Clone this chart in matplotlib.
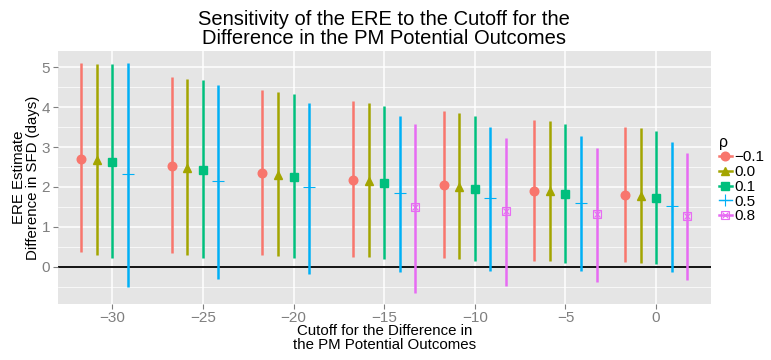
import numpy as np
import matplotlib
matplotlib.use("Agg")
import matplotlib.pyplot as plt
from matplotlib.lines import Line2D

plt.rcParams['font.family'] = ['Liberation Sans', 'DejaVu Sans']

# cutoff values on the x axis
cutoffs = [-30, -25, -20, -15, -10, -5, 0]
rho_labels = ['\u22120.1', '0.0', '0.1', '0.5', '0.8']

# ERE estimates and interval ends, one list per rho (nan = not estimated)
est_m01 = [2.71, 2.52, 2.34, 2.18, 2.05, 1.91, 1.81]
lo_m01 = [0.36, 0.34, 0.30, 0.25, 0.21, 0.15, 0.12]
hi_m01 = [5.11, 4.75, 4.43, 4.15, 3.90, 3.69, 3.51]

est_00 = [2.68, 2.48, 2.31, 2.15, 2.01, 1.89, 1.78]
lo_00 = [0.30, 0.28, 0.26, 0.23, 0.18, 0.14, 0.10]
hi_00 = [5.08, 4.70, 4.38, 4.10, 3.86, 3.65, 3.47]

est_01 = [2.62, 2.43, 2.25, 2.09, 1.96, 1.83, 1.73]
lo_01 = [0.21, 0.21, 0.21, 0.19, 0.14, 0.10, 0.07]
hi_01 = [5.08, 4.68, 4.34, 4.04, 3.78, 3.58, 3.40]

est_05 = [2.32, 2.15, 2.00, 1.84, 1.72, 1.60, 1.51]
lo_05 = [-0.50, -0.30, -0.18, -0.13, -0.10, -0.12, -0.13]
hi_05 = [5.11, 4.55, 4.12, 3.78, 3.51, 3.29, 3.13]

est_08 = [np.nan, np.nan, np.nan, 1.49, 1.40, 1.33, 1.28]
lo_08 = [np.nan, np.nan, np.nan, -0.67, -0.48, -0.39, -0.33]
hi_08 = [np.nan, np.nan, np.nan, 3.58, 3.22, 2.99, 2.84]

estimates = [est_m01, est_00, est_01, est_05, est_08]
lowers = [lo_m01, lo_00, lo_01, lo_05, lo_08]
uppers = [hi_m01, hi_00, hi_01, hi_05, hi_08]

colors = ['#F8766D', '#A3A500', '#00BF7D', '#00B0F6', '#E76BF3']
markers = ['o', '^', 's', '+', 's']
dodge = 4.3

fig = plt.figure(figsize=(7.71, 3.6), dpi=100)
ax = fig.add_axes([0.075, 0.156, 0.847, 0.702])
ax.set_facecolor('#E5E5E5')
for s in ax.spines.values():
    s.set_visible(False)

# ggplot-like grid
for y in np.arange(-0.5, 5.5, 1.0):
    ax.axhline(y, color='white', lw=0.5, zorder=0)
for y in range(0, 6):
    ax.axhline(y, color='white', lw=1.1, zorder=0)
for x in cutoffs:
    ax.axvline(x, color='white', lw=1.1, zorder=0)

ax.axhline(0, color='black', lw=1.3, zorder=1)

x = np.array(cutoffs, dtype=float)
for i in range(5):
    xs = x + (i - 2) * dodge / 5
    est = np.array(estimates[i])
    lo = np.array(lowers[i])
    hi = np.array(uppers[i])
    ax.vlines(xs, lo, hi, color=colors[i], lw=1.8, zorder=2)
    if i == 3:
        ax.plot(xs, est, ls='none', marker='+', ms=9, mew=0.8,
                color=colors[i], zorder=3)
    elif i == 4:
        ax.plot(xs, est, ls='none', marker='s', ms=5.5, mew=0.8,
                mfc='none', mec=colors[i], zorder=3)
        ax.plot(xs, est, ls='none', marker='x', ms=4, mew=0.8,
                color=colors[i], zorder=3)
    else:
        ax.plot(xs, est, ls='none', marker=markers[i], ms=6.2,
                color=colors[i], zorder=3)

ax.set_xlim(-33, 3.02)
ax.set_ylim(-0.935, 5.41)
ax.set_xticks(cutoffs)
ax.set_xticklabels(['\u221230', '\u221225', '\u221220', '\u221215',
                    '\u221210', '\u22125', '0'])
ax.set_yticks(range(0, 6))
ax.tick_params(colors='#7F7F7F', labelsize=11, length=3.5, width=0.8, pad=2)

ax.set_xlabel('Cutoff for the Difference in\nthe PM Potential Outcomes',
              fontsize=10.8, labelpad=-1, linespacing=1.0)
ax.set_ylabel('ERE Estimate\nDifference in SFD (days)', fontsize=10.8,
              labelpad=1, linespacing=1.05)
ax.set_title('Sensitivity of the ERE to the Cutoff for the\n'
             'Difference in the PM Potential Outcomes',
             fontsize=14.5, linespacing=1.0, pad=5)

# legend
handles = []
for i in range(5):
    if i == 4:
        h = (Line2D([], [], color=colors[i], lw=1.8, marker='s', ms=5.5,
                    mfc='none', mec=colors[i], mew=0.8),
             Line2D([], [], ls='none', marker='x', ms=4, mew=0.8,
                    color=colors[i]))
    elif i == 3:
        h = Line2D([], [], color=colors[i], lw=1.0, marker='+', ms=9,
                   mew=0.8)
    else:
        h = Line2D([], [], color=colors[i], lw=1.8, marker=markers[i],
                   ms=6.2)
    handles.append(h)
leg = ax.legend(handles, rho_labels, title='\u03c1', loc='upper left',
                bbox_to_anchor=(1.0, 0.70), frameon=False, fontsize=11,
                title_fontsize=11.5, handlelength=0.9, handletextpad=0.15,
                labelspacing=0.05, borderaxespad=0.3, borderpad=0.2)
leg._legend_box.align = 'left'

fig.savefig('out.png', dpi=100)
